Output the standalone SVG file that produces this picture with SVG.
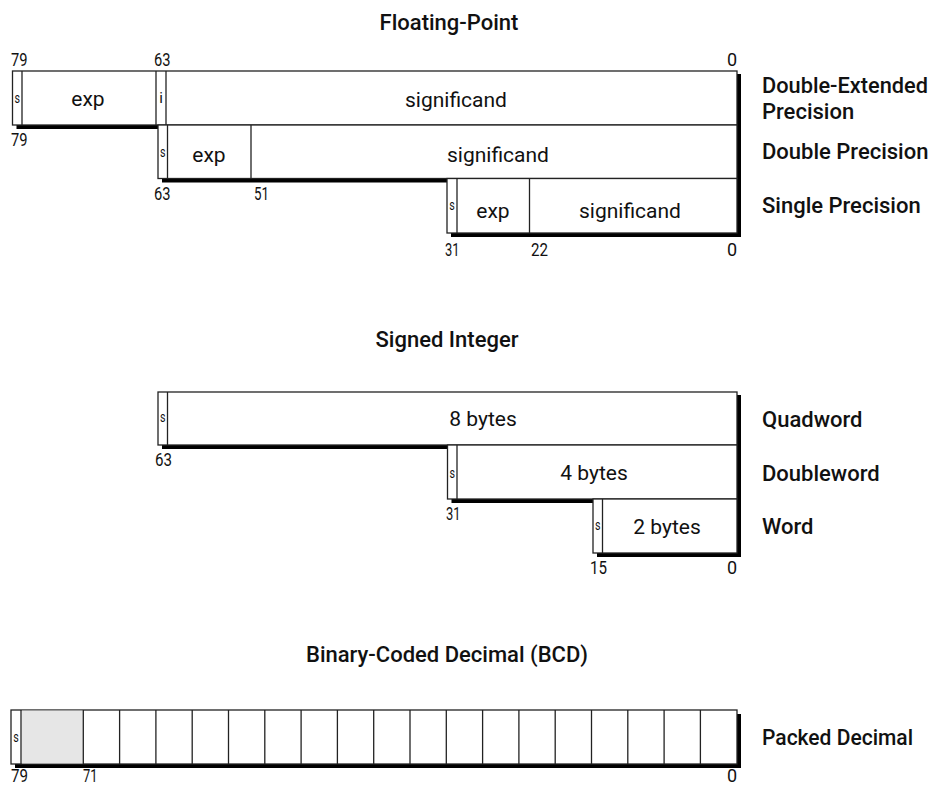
<svg xmlns="http://www.w3.org/2000/svg" width="933" height="787" viewBox="0 0 933 787">
<style>
.box{fill:#fff;stroke:#222;stroke-width:1.3}
.div{stroke:#222;stroke-width:1.3;fill:none}
.shadow{fill:#000}
.shade{fill:#e6e6e6}
text{font-family:Roboto,"Liberation Sans",sans-serif;fill:#111}
.title{font-size:22px;font-weight:500;text-anchor:middle}
.lbl{font-size:22px;font-weight:500}
.fld{font-size:21px;text-anchor:middle}
.num{font-size:18px}
.s{font-size:15px;text-anchor:middle}
.end{text-anchor:end}
</style>
<rect width="933" height="787" fill="#fff"/>

<text class="title" x="449" y="30">Floating-Point</text>
<g id="fp-shadow"><polygon class="shadow" points="16.5,74 741,74 741,237 451,237 451,182.5 162,182.5 162,129 16.5,129"/></g>
<g id="double-extended">
<rect class="box" x="12.5" y="71" width="724.5" height="54"/>
<line class="div" x1="22" y1="71" x2="22" y2="125"/>
<line class="div" x1="156" y1="71" x2="156" y2="125"/>
<line class="div" x1="166" y1="71" x2="166" y2="125"/>
<text class="s" x="17.3" y="103" textLength="5.5" lengthAdjust="spacingAndGlyphs">s</text>
<text class="fld" x="88" y="106">exp</text>
<text class="s" x="161" y="103">i</text>
<text class="fld" x="456" y="107">significand</text>
<text class="num" x="11" y="66" textLength="16.5" lengthAdjust="spacingAndGlyphs">79</text>
<text class="num" x="154" y="66" textLength="16.5" lengthAdjust="spacingAndGlyphs">63</text>
<text class="num end" x="737" y="66">0</text>
<text class="num" x="11" y="146" textLength="16.5" lengthAdjust="spacingAndGlyphs">79</text>
<text class="lbl" x="762" y="93" textLength="166" lengthAdjust="spacingAndGlyphs">Double-Extended</text>
<text class="lbl" x="762" y="119">Precision</text>
</g>
<g id="double">
<rect class="box" x="158" y="125" width="579" height="53.5"/>
<line class="div" x1="167.5" y1="125" x2="167.5" y2="178.5"/>
<line class="div" x1="251" y1="125" x2="251" y2="178.5"/>
<text class="s" x="162.8" y="157" textLength="5.5" lengthAdjust="spacingAndGlyphs">s</text>
<text class="fld" x="209" y="162">exp</text>
<text class="fld" x="498" y="162">significand</text>
<text class="num" x="154" y="200" textLength="16.5" lengthAdjust="spacingAndGlyphs">63</text>
<text class="num" x="254" y="200" textLength="15" lengthAdjust="spacingAndGlyphs">51</text>
<text class="lbl" x="762" y="159">Double Precision</text>
</g>
<g id="single">
<rect class="box" x="447" y="178.5" width="290" height="54.5"/>
<line class="div" x1="457" y1="178.5" x2="457" y2="233"/>
<line class="div" x1="529.5" y1="178.5" x2="529.5" y2="233"/>
<text class="s" x="452" y="210" textLength="5.5" lengthAdjust="spacingAndGlyphs">s</text>
<text class="fld" x="493" y="218">exp</text>
<text class="fld" x="630" y="218">significand</text>
<text class="num" x="445" y="256" textLength="14.5" lengthAdjust="spacingAndGlyphs">31</text>
<text class="num" x="531" y="256" textLength="17" lengthAdjust="spacingAndGlyphs">22</text>
<text class="num end" x="737" y="256">0</text>
<text class="lbl" x="762" y="213">Single Precision</text>
</g>

<text class="title" x="447" y="347">Signed Integer</text>
<g id="int-shadow"><polygon class="shadow" points="162,395 741,395 741,557 597,557 597,503 451.5,503 451.5,449 162,449"/></g>
<g id="quadword">
<rect class="box" x="158" y="392" width="579" height="53"/>
<line class="div" x1="167.5" y1="392" x2="167.5" y2="445"/>
<text class="s" x="162.8" y="422" textLength="5.5" lengthAdjust="spacingAndGlyphs">s</text>
<text class="fld" x="483" y="426">8 bytes</text>
<text class="num" x="155" y="466" textLength="17" lengthAdjust="spacingAndGlyphs">63</text>
<text class="lbl" x="762" y="427">Quadword</text>
</g>
<g id="doubleword">
<rect class="box" x="447.5" y="445" width="289.5" height="54"/>
<line class="div" x1="457" y1="445" x2="457" y2="499"/>
<text class="s" x="452.3" y="478" textLength="5.5" lengthAdjust="spacingAndGlyphs">s</text>
<text class="fld" x="594" y="480">4 bytes</text>
<text class="num" x="446" y="520" textLength="14.5" lengthAdjust="spacingAndGlyphs">31</text>
<text class="lbl" x="762" y="481">Doubleword</text>
</g>
<g id="word">
<rect class="box" x="593" y="499" width="144" height="54"/>
<line class="div" x1="602.5" y1="499" x2="602.5" y2="553"/>
<text class="s" x="597.8" y="530" textLength="5.5" lengthAdjust="spacingAndGlyphs">s</text>
<text class="fld" x="667" y="534">2 bytes</text>
<text class="num" x="590" y="574" textLength="17" lengthAdjust="spacingAndGlyphs">15</text>
<text class="num end" x="737" y="574">0</text>
<text class="lbl" x="762" y="534">Word</text>
</g>

<text class="title" x="447" y="662">Binary-Coded Decimal (BCD)</text>
<g id="bcd-shadow"><rect class="shadow" x="15" y="714" width="726" height="54"/></g>
<g id="packed-decimal">
<rect class="box" x="11" y="710" width="726" height="54"/>
<rect class="shade" x="21.6" y="710.6" width="61.7" height="52.8"/>
<g class="div">
<line x1="21" y1="710" x2="21" y2="764"/>
<line x1="83.3" y1="710" x2="83.3" y2="764"/>
<line x1="119.6" y1="710" x2="119.6" y2="764"/>
<line x1="155.9" y1="710" x2="155.9" y2="764"/>
<line x1="192.2" y1="710" x2="192.2" y2="764"/>
<line x1="228.5" y1="710" x2="228.5" y2="764"/>
<line x1="264.8" y1="710" x2="264.8" y2="764"/>
<line x1="301.1" y1="710" x2="301.1" y2="764"/>
<line x1="337.4" y1="710" x2="337.4" y2="764"/>
<line x1="373.7" y1="710" x2="373.7" y2="764"/>
<line x1="410" y1="710" x2="410" y2="764"/>
<line x1="446.3" y1="710" x2="446.3" y2="764"/>
<line x1="482.6" y1="710" x2="482.6" y2="764"/>
<line x1="518.9" y1="710" x2="518.9" y2="764"/>
<line x1="555.2" y1="710" x2="555.2" y2="764"/>
<line x1="591.5" y1="710" x2="591.5" y2="764"/>
<line x1="627.8" y1="710" x2="627.8" y2="764"/>
<line x1="664.1" y1="710" x2="664.1" y2="764"/>
<line x1="700.4" y1="710" x2="700.4" y2="764"/>
</g>
<text class="s" x="16" y="742" textLength="5.5" lengthAdjust="spacingAndGlyphs">s</text>
<text class="num" x="11" y="782" textLength="17" lengthAdjust="spacingAndGlyphs">79</text>
<text class="num" x="83" y="782" textLength="14.5" lengthAdjust="spacingAndGlyphs">71</text>
<text class="num end" x="737" y="782">0</text>
<text class="lbl" x="762" y="745" textLength="151" lengthAdjust="spacingAndGlyphs">Packed Decimal</text>
</g>
</svg>
